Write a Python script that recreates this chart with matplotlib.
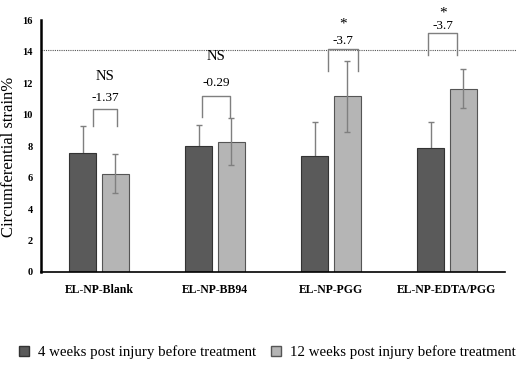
import numpy as np
import matplotlib
matplotlib.use('Agg')
import matplotlib.pyplot as plt
from matplotlib.patches import Patch

groups = ['EL-NP-Blank', 'EL-NP-BB94', 'EL-NP-PGG', 'EL-NP-EDTA/PGG']
wk4 = [7.57, 8.0, 7.4, 7.9]
wk4_err = [1.72, 1.36, 2.1, 1.6]
wk12 = [6.24, 8.28, 11.15, 11.65]
wk12_err = [1.23, 1.5, 2.25, 1.25]
diff_text = ['-1.37', '-0.29', '-3.7', '-3.7']
sig_text = ['NS', 'NS', '*', '*']
# bracket: (x offset left, x offset right, top y, leg bottom y)
brackets = [(-0.05, 0.155, 10.37, 9.29),
            (-0.11, 0.13, 11.2, 9.86),
            (-0.03, 0.23, 14.19, 12.79),
            (-0.16, 0.09, 15.2, 13.8)]
diff_y = [11.05, 12.0, 14.67, 15.63]
sig_y = [12.4, 13.68, 15.5, 16.25]
ref_line = 14.1

plt.rcParams['font.family'] = ['Liberation Serif', 'DejaVu Serif']

fig = plt.figure(figsize=[5.16, 3.65], dpi=100)
ax = fig.add_axes([0.0795, 0.2548, 0.8992, 0.690])

x = np.arange(len(groups))
w = 0.225
off = 0.142
dark = '#5a5a5a'
light = '#b5b5b5'
ekw = dict(ecolor='#7f7f7f', capsize=2.5, elinewidth=1, capthick=1)
ax.errorbar(x - off, wk4, yerr=wk4_err, fmt='none', zorder=1, **ekw)
ax.bar(x - off, wk4, w, color=dark, edgecolor='#333333', linewidth=0.8, zorder=2)
ax.bar(x + off, wk12, w, color=light, edgecolor='#555555', linewidth=0.8, zorder=2)
ax.errorbar(x + off, wk12, yerr=wk12_err, fmt='none', zorder=3, **ekw)

ax.plot([-0.5, 3.6], [ref_line, ref_line], color='#555555', linestyle=(0, (1, 1)),
        linewidth=0.8, clip_on=False)

for i, (l, r, top, bot) in enumerate(brackets):
    ax.plot([i + l, i + l, i + r, i + r], [bot, top, top, bot], color='#7f7f7f', linewidth=1,
            clip_on=False)
    c = i + (l + r) / 2
    ax.text(c, diff_y[i], diff_text[i], ha='center', va='center', fontsize=9.5, clip_on=False)
    if sig_text[i] == 'NS':
        ax.text(c, sig_y[i], sig_text[i], ha='center', va='center', fontsize=10.5, clip_on=False)
    else:
        ax.text(c, sig_y[i], sig_text[i], ha='center', va='baseline', fontsize=11, clip_on=False)

ax.set_xlim(-0.5, 3.5)
ax.set_ylim(0, 16)
ax.set_yticks(range(0, 17, 2))
ax.set_xticks(x)
ax.set_xticklabels(groups, fontweight='bold', fontsize=8.5)
for t in ax.get_yticklabels():
    t.set_fontweight('bold')
    t.set_fontsize(7.5)
ax.tick_params(axis='y', length=0, pad=6)
ax.tick_params(axis='x', length=0, pad=9)
ax.spines['top'].set_visible(False)
ax.spines['right'].set_visible(False)
ax.spines['left'].set_linewidth(1.8)
ax.spines['bottom'].set_linewidth(1.2)
ax.set_ylabel('Circumferential strain%', fontsize=12)
ax.yaxis.set_label_coords(-0.051, 0.456)

handles = [Patch(facecolor=dark, edgecolor='#333333', label='4 weeks post injury before treatment'),
           Patch(facecolor=light, edgecolor='#555555', label='12 weeks post injury before treatment')]
fig.legend(handles=handles, loc='center', bbox_to_anchor=(0.518, 0.035), ncol=2, frameon=False,
           fontsize=10.75, handlelength=0.7, handleheight=0.7, handletextpad=0.6, columnspacing=0.95)

fig.savefig('out.png', dpi=100)
